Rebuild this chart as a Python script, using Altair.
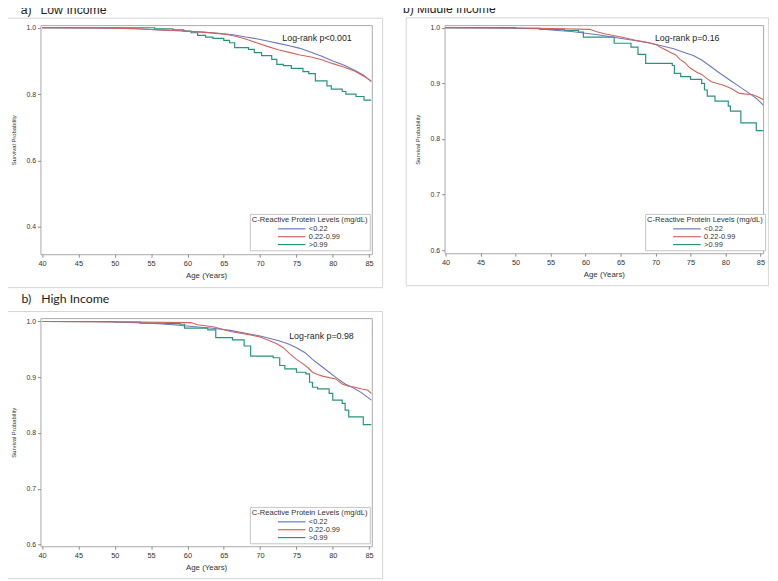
import altair as alt
import pandas as pd

GROUPS = ["<0.22", "0.22-0.99", ">0.99"]
COLORS = ["#6877c2", "#d2635a", "#27937e"]

# ---- a) Low Income ----
a_blue_age = [40, 47, 50, 53, 55, 57, 59, 60.5, 62, 63.5, 65, 66.5, 68, 69.5, 71, 72.5, 74, 75.5, 77, 78.5, 80, 81.5, 83, 84.2, 85.3]
a_blue_s = [1.0, 0.9995, 0.999, 0.997, 0.995, 0.993, 0.991, 0.989, 0.987, 0.985, 0.982, 0.978, 0.972, 0.967, 0.960, 0.953, 0.946, 0.938, 0.926, 0.914, 0.900, 0.888, 0.872, 0.858, 0.838]
a_red_age = [40, 47, 50, 53, 55, 57, 59, 60.5, 62, 63.5, 65, 66.5, 68, 69.5, 71, 72.5, 74, 75.5, 77, 78.5, 80, 81.5, 83, 84.2, 85.3]
a_red_s = [1.0, 0.9995, 0.999, 0.997, 0.995, 0.993, 0.991, 0.989, 0.987, 0.984, 0.981, 0.975, 0.966, 0.955, 0.944, 0.934, 0.926, 0.918, 0.912, 0.904, 0.892, 0.882, 0.870, 0.855, 0.840]
a_teal_age = [40, 55.5, 58, 59.5, 60.5, 61.4, 62.5, 63.5, 65, 65.8, 66.5, 68.4, 69.2, 70.2, 71.6, 72.3, 73.2, 74.3, 75.9, 76.7, 77.6, 79.2, 79.8, 81.3, 81.8, 83.2, 84.3, 85.3]
a_teal_s = [1.0, 0.997, 0.994, 0.99, 0.985, 0.977, 0.972, 0.968, 0.962, 0.955, 0.94, 0.935, 0.925, 0.916, 0.905, 0.89, 0.886, 0.878, 0.868, 0.862, 0.84, 0.825, 0.815, 0.808, 0.80, 0.793, 0.782, 0.782]

# ---- b) Middle Income ----
b_blue_age = [40, 47, 50, 53, 56, 58, 60, 62, 64.5, 67, 69.3, 71, 72.6, 74, 75.4, 76.6, 77.7, 79, 80.6, 82, 83.4, 84.5, 85.4]
b_blue_s = [1.0, 0.9995, 0.999, 0.998, 0.995, 0.993, 0.990, 0.987, 0.982, 0.977, 0.972, 0.967, 0.962, 0.956, 0.950, 0.942, 0.932, 0.920, 0.906, 0.894, 0.882, 0.872, 0.861]
b_red_age = [40, 53, 60.6, 61.5, 62.7, 64, 65.6, 67, 68.8, 70, 70.7, 71.5, 72.1, 72.9, 73.5, 74.2, 74.9, 75.9, 76.6, 77.3, 78, 78.7, 79.6, 80.6, 81.3, 82, 82.7, 83.8, 84.6, 85.4]
b_red_s = [1.0, 0.999, 0.997, 0.993, 0.989, 0.986, 0.982, 0.978, 0.974, 0.970, 0.965, 0.960, 0.956, 0.951, 0.943, 0.937, 0.928, 0.920, 0.916, 0.909, 0.903, 0.900, 0.897, 0.892, 0.887, 0.882, 0.881, 0.880, 0.876, 0.871]
b_teal_age = [40, 50, 53.5, 57, 59, 59.7, 64.1, 66.5, 67.5, 68.6, 72.4, 72.7, 73.6, 75.0, 76.6, 77.0, 77.4, 78.5, 80.4, 80.7, 82.2, 84.4, 85.4]
b_teal_s = [1.0, 0.999, 0.997, 0.995, 0.992, 0.983, 0.972, 0.965, 0.952, 0.936, 0.932, 0.918, 0.912, 0.907, 0.90, 0.888, 0.877, 0.868, 0.859, 0.85, 0.829, 0.815, 0.815]

# ---- High Income ----
c_blue_age = [40, 47, 50, 53, 56, 58, 61.4, 63.5, 65.9, 68, 70, 71.5, 72.7, 74, 75, 76.2, 77.2, 78.3, 79.5, 80.6, 81.7, 82.8, 84, 85.3]
c_blue_s = [1.0, 0.9995, 0.999, 0.998, 0.996, 0.994, 0.99, 0.988, 0.984, 0.979, 0.974, 0.969, 0.965, 0.959, 0.953, 0.944, 0.932, 0.921, 0.909, 0.898, 0.888, 0.881, 0.872, 0.859]
c_red_age = [40, 53, 60.5, 61.4, 63.7, 65.9, 68.7, 70, 71.4, 72.3, 73.2, 74.1, 75, 75.9, 76.6, 77.2, 77.9, 78.6, 80.4, 81.3, 82.2, 83.1, 84.0, 84.8, 85.3]
c_red_s = [1.0, 0.999, 0.998, 0.994, 0.990, 0.982, 0.976, 0.972, 0.965, 0.960, 0.953, 0.942, 0.932, 0.924, 0.917, 0.909, 0.905, 0.902, 0.897, 0.888, 0.884, 0.882, 0.879, 0.877, 0.871]
c_teal_age = [40, 50, 53.5, 57, 59.0, 59.6, 62.8, 63.9, 66.2, 67.8, 68.7, 71.8, 72.7, 73.4, 75.0, 76.3, 76.8, 77.2, 77.9, 79.5, 80.0, 81.3, 81.7, 82.2, 84.2, 85.3]
c_teal_s = [1.0, 0.999, 0.997, 0.996, 0.995, 0.988, 0.985, 0.971, 0.967, 0.956, 0.938, 0.935, 0.921, 0.915, 0.909, 0.906, 0.891, 0.882, 0.879, 0.871, 0.859, 0.853, 0.841, 0.829, 0.815, 0.815]

X_TICKS = [40, 45, 50, 55, 60, 65, 70, 75, 80, 85]
FONT = "Liberation Sans"
one = pd.DataFrame({"k": [0]})


def frame_df(blue_age, blue_s, red_age, red_s, teal_age, teal_s):
    rows = []
    for g, ages, ss in ((GROUPS[0], blue_age, blue_s), (GROUPS[1], red_age, red_s), (GROUPS[2], teal_age, teal_s)):
        for a, s in zip(ages, ss):
            rows.append({"age": a, "surv": s, "group": g})
    return pd.DataFrame(rows)


def txt(t, x, y, size, font=FONT, color="#1e1e1e"):
    return alt.Chart(one).mark_text(text=t, fontSize=size, font=font, color=color,
                                    align="left", baseline="alphabetic").encode(
        x=alt.value(x), y=alt.value(y))


def panel(df, w, h, xdom, ydom, yticks, logrank, lr_pos, titles, box, legpos):
    xs = alt.X("age:Q", scale=alt.Scale(domain=xdom, nice=False, zero=False),
               axis=alt.Axis(values=X_TICKS, title="Age (Years)", labelFlush=False,
                             labelFontSize=7.5, titleFontSize=8, titleFontWeight="normal",
                             titlePadding=5, tickSize=3, labelPadding=2))
    ys = alt.Y("surv:Q", scale=alt.Scale(domain=ydom, nice=False, zero=False),
               axis=alt.Axis(values=yticks, format=".1f", title="Survival Probability",
                             labelFontSize=7, titleFontSize=6, titleFontWeight="normal",
                             titlePadding=10, tickSize=3, labelPadding=2))
    legend = alt.Legend(orient="none", legendX=legpos[0], legendY=legpos[1],
                        title="C-Reactive Protein Levels (mg/dL)", titleFont=FONT,
                        titleFontSize=7.7, titleFontWeight="normal", titleColor="#333",
                        titlePadding=1, titleLimit=300, labelFont=FONT, labelFontSize=7.5,
                        labelColor="#333", padding=2, strokeColor="#c4c4c4", fillColor="white",
                        symbolType="M-4,0H4", symbolSize=49, symbolStrokeWidth=1.2,
                        symbolOffset=36, labelOffset=13, rowPadding=0)
    color = alt.Color("group:N", scale=alt.Scale(domain=GROUPS, range=COLORS), legend=legend)
    outer = alt.Chart(one).mark_rect(filled=False, stroke="#d4d4d4", strokeWidth=1).encode(
        x=alt.value(box[0]), x2=alt.value(box[1]), y=alt.value(box[2]), y2=alt.value(box[3]))
    smooth = alt.Chart(df).transform_filter(alt.datum.group != GROUPS[2]).mark_line(
        strokeWidth=1.1, interpolate="linear").encode(x=xs, y=ys, color=color, detail="group:N")
    step = alt.Chart(df).transform_filter(alt.datum.group == GROUPS[2]).mark_line(
        strokeWidth=1.2, interpolate="step-after").encode(x=xs, y=ys, color=color)
    layers = [outer, step, smooth, txt(logrank, lr_pos[0], lr_pos[1], 9)]
    for t in titles:
        layers.append(txt(*t))
    return alt.layer(*layers).properties(width=w, height=h)


dfa = frame_df(a_blue_age, a_blue_s, a_red_age, a_red_s, a_teal_age, a_teal_s)
dfb = frame_df(b_blue_age, b_blue_s, b_red_age, b_red_s, b_teal_age, b_teal_s)
dfc = frame_df(c_blue_age, c_blue_s, c_red_age, c_red_s, c_teal_age, c_teal_s)

pa = panel(dfa, 337, 233, [39.77, 85.37], [0.318, 1.008], [0.4, 0.6, 0.8, 1.0],
           "Log-rank p<0.001", (246, 16),
           [("a)", -20, -11.7, 12.5), ("Low Income", 0, -11.7, 12.5)],
           (-35, 348, -7, 267), (213, 192))
pb = panel(dfb, 324, 232, [39.86, 85.38], [0.5947, 1.0046], [0.6, 0.7, 0.8, 0.9, 1.0],
           "Log-rank p=0.16", (214, 16.6),
           [("b) Middle Income", -42.3, -12.4, 12.3)],
           (-39, 329.4, -7.4, 265), (204, 192))
pc = panel(dfc, 337, 232, [39.77, 85.37], [0.597, 1.006], [0.6, 0.7, 0.8, 0.9, 1.0],
           "Log-rank p=0.98", (253, 21.7),
           [("b)", -19.3, -15, 12.5, "Lato"), ("High Income", 0.7, -15, 12.5, "Lato")],
           (-35, 348, -6.7, 265), (213, 192))

chart = alt.concat(pa, pb, pc, columns=2, spacing={"row": 65, "column": 74},
                   bounds="flush").resolve_scale(
    color="independent", x="independent", y="independent").resolve_legend(color="independent")
chart = chart.properties(padding={"left": -3, "top": -10.5, "right": 0, "bottom": 0}).configure(
    font=FONT).configure_view(stroke="#a8a8a8", strokeWidth=1).configure_axis(
    domain=False, grid=False, tickColor="#8a8a8a", labelColor="#333", titleColor="#333",
    labelFont=FONT, titleFont=FONT)

chart.save("out.html", embed_options={"renderer": "svg", "actions": False})
